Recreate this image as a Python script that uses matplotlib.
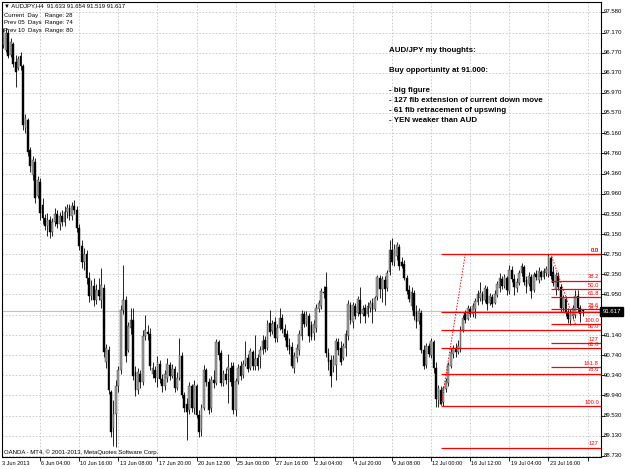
import matplotlib
matplotlib.use("Agg")
import matplotlib.pyplot as plt
import matplotlib.transforms as mtransforms
import numpy as np

W, H = 625, 469
FONT = ['Liberation Sans', 'DejaVu Sans']
plt.rcParams['font.family'] = FONT

# =============================================================================
# AUDJPY H4 candles, oldest first
# =============================================================================
opens = [
    97.06, 96.92, 96.82, 97.16, 96.72, 96.94, 96.58, 96.46, 96.70, 96.50,
    95.27, 95.43, 94.83, 94.33, 94.59, 93.91, 94.19, 93.73, 93.48, 93.32,
    93.44, 93.20, 93.40, 93.56, 93.36, 93.52, 93.40, 93.60, 93.67, 93.52,
    93.71, 93.63, 93.28, 92.92, 92.60, 92.76, 92.28, 91.92, 92.12, 91.84,
    92.04, 91.84, 92.08, 90.61, 90.84, 90.01, 89.29, 89.57, 90.13, 90.45,
    91.64, 91.84, 90.84, 91.28, 91.44, 90.41, 90.05, 90.37, 90.21, 91.12,
    91.20, 91.16, 90.37, 90.45, 90.29, 90.57, 90.27, 90.13, 90.29, 90.55,
    90.33, 90.47, 90.09, 90.29, 90.72, 89.95, 89.77, 89.65, 90.13, 89.69,
    90.13, 89.55, 89.25, 89.69, 90.45, 90.21, 89.69, 90.25, 90.19, 91.00,
    90.78, 90.19, 90.37, 90.45, 90.49, 90.53, 89.65, 90.23, 90.53, 90.35,
    90.57, 90.69, 90.49, 90.80, 90.53, 90.69, 90.71, 90.84, 91.04, 90.88,
    91.38, 91.22, 91.40, 91.08, 91.28, 91.48, 91.26, 91.16, 90.94, 90.90,
    90.49, 90.69, 90.84, 91.12, 91.56, 91.36, 91.52, 91.34, 91.18, 91.28,
    91.66, 91.72, 92.00, 92.10, 90.78, 90.65, 90.51, 90.55, 91.00, 90.88,
    90.69, 90.88, 91.12, 91.74, 91.40, 91.72, 91.58, 91.84, 91.56, 91.68,
    91.56, 91.68, 91.78, 91.66, 91.90, 92.28, 92.06, 92.24, 92.08, 92.40,
    92.84, 92.60, 92.72, 92.90, 92.60, 92.56, 92.28, 92.04, 91.72, 91.98,
    91.60, 91.42, 91.58, 90.84, 90.55, 90.92, 90.74, 91.00, 90.49, 89.85,
    90.05, 89.81, 90.07, 90.19, 90.53, 90.76, 90.88, 90.80, 90.88, 91.24,
    91.58, 91.46, 91.66, 91.56, 91.66, 91.80, 91.88, 91.96, 91.84, 92.06,
    91.78, 91.90, 91.78, 91.94, 92.08, 92.26, 92.12, 92.28, 92.02, 92.44,
    92.26, 92.08, 92.18, 92.38, 92.50, 92.24, 92.16, 92.30, 92.04, 92.36,
    92.24, 92.40, 92.30, 92.38, 92.36, 92.68, 92.40, 92.06, 92.32, 92.10,
    91.68, 91.86, 91.60, 91.44, 91.52, 91.54, 91.92, 91.68, 91.633,
]
closes = [
    96.82, 97.18, 97.16, 96.70, 96.98, 96.54, 96.39, 96.64, 96.50, 95.33,
    95.47, 94.79, 94.51, 94.63, 93.87, 94.23, 93.58, 93.48, 93.32, 93.44,
    93.20, 93.40, 93.56, 93.36, 93.52, 93.40, 93.60, 93.67, 93.52, 93.71,
    93.63, 93.28, 92.92, 92.60, 92.76, 92.28, 91.92, 92.12, 91.84, 92.04,
    91.92, 92.14, 90.80, 90.88, 90.05, 89.21, 89.57, 90.13, 90.45, 91.64,
    91.84, 90.72, 91.32, 91.44, 90.33, 90.05, 90.41, 90.21, 91.12, 91.24,
    91.16, 90.53, 90.49, 90.29, 90.61, 90.27, 90.13, 90.37, 90.57, 90.33,
    90.47, 90.09, 90.29, 90.74, 89.95, 89.69, 89.61, 90.13, 89.69, 90.15,
    89.55, 89.21, 89.69, 90.45, 90.21, 89.65, 90.25, 90.19, 91.00, 90.74,
    90.19, 90.37, 90.25, 90.51, 90.21, 89.65, 90.23, 90.49, 90.33, 90.57,
    90.71, 90.47, 90.82, 90.53, 90.67, 90.53, 90.84, 91.02, 90.86, 91.36,
    91.20, 91.36, 91.08, 91.28, 91.48, 91.26, 91.10, 90.90, 90.84, 90.53,
    90.72, 90.88, 91.16, 91.56, 91.36, 91.54, 91.12, 91.10, 91.36, 91.68,
    91.78, 92.02, 91.98, 90.78, 90.61, 90.33, 90.67, 91.02, 90.84, 90.61,
    90.92, 91.16, 91.76, 91.44, 91.74, 91.52, 91.86, 91.56, 91.66, 91.52,
    91.72, 91.78, 91.64, 91.88, 92.30, 92.06, 92.26, 92.06, 92.38, 92.84,
    92.60, 92.86, 92.94, 92.52, 92.52, 92.28, 92.02, 91.86, 92.00, 91.52,
    91.40, 91.62, 90.84, 90.53, 90.92, 90.76, 91.02, 90.49, 89.87, 90.09,
    89.77, 90.09, 90.23, 90.55, 90.80, 90.88, 90.80, 90.92, 91.24, 91.48,
    91.44, 91.68, 91.56, 91.72, 91.82, 91.96, 91.98, 91.82, 92.08, 91.76,
    91.92, 91.76, 91.96, 92.16, 92.28, 92.12, 92.30, 92.04, 92.44, 92.26,
    92.10, 92.20, 92.38, 92.52, 92.20, 92.10, 92.32, 92.02, 92.34, 92.30,
    92.42, 92.30, 92.42, 92.46, 92.72, 92.32, 92.18, 92.34, 92.10, 91.68,
    91.88, 91.58, 91.46, 91.60, 91.68, 91.92, 91.68, 91.56, 91.617,
]
highs = [
    97.16, 97.26, 97.26, 97.22, 97.06, 96.98, 96.72, 96.70, 96.78, 96.54,
    95.55, 95.47, 94.89, 94.71, 94.67, 94.31, 94.27, 93.87, 93.56, 93.58,
    93.52, 93.48, 93.67, 93.64, 93.60, 93.64, 93.71, 93.75, 93.75, 93.79,
    93.83, 93.71, 93.36, 93.04, 92.88, 92.84, 92.40, 92.24, 92.28, 92.16,
    92.28, 92.48, 92.16, 90.96, 90.92, 90.05, 89.85, 90.25, 90.53, 91.74,
    92.54, 91.92, 91.40, 91.68, 91.68, 90.53, 90.49, 90.45, 91.24, 91.54,
    91.34, 91.28, 90.61, 90.53, 90.72, 90.65, 90.37, 90.45, 90.69, 90.61,
    90.57, 90.53, 90.41, 91.08, 90.80, 90.01, 89.89, 90.21, 90.17, 90.25,
    90.17, 89.65, 89.77, 90.55, 90.49, 90.29, 90.33, 90.45, 91.06, 91.04,
    90.84, 90.45, 90.49, 90.76, 90.61, 90.61, 90.29, 90.57, 90.63, 90.65,
    91.02, 90.77, 90.88, 90.84, 91.14, 90.77, 90.92, 91.14, 91.12, 91.44,
    91.64, 91.44, 91.50, 91.36, 91.68, 91.56, 91.36, 91.24, 91.08, 91.00,
    90.80, 90.96, 91.24, 91.64, 91.62, 91.62, 91.58, 91.42, 91.44, 91.76,
    91.84, 92.08, 92.12, 92.40, 90.88, 90.75, 90.75, 91.08, 91.08, 91.02,
    90.98, 91.24, 91.84, 91.80, 91.80, 91.78, 91.92, 92.10, 91.74, 91.76,
    91.80, 91.84, 91.88, 91.92, 92.34, 92.34, 92.32, 92.32, 92.44, 93.04,
    93.08, 92.96, 93.00, 92.96, 92.70, 92.64, 92.34, 92.14, 92.10, 92.04,
    91.74, 91.68, 91.64, 90.94, 90.98, 90.98, 91.08, 91.04, 90.61, 90.15,
    90.13, 90.13, 90.29, 90.61, 90.88, 90.94, 90.98, 91.04, 91.32, 91.54,
    91.64, 91.74, 91.72, 91.78, 91.88, 92.04, 92.20, 92.02, 92.14, 92.12,
    91.98, 91.96, 92.04, 92.22, 92.38, 92.32, 92.36, 92.32, 92.54, 92.52,
    92.36, 92.28, 92.44, 92.58, 92.54, 92.32, 92.40, 92.36, 92.40, 92.44,
    92.50, 92.44, 92.48, 92.52, 92.76, 92.72, 92.52, 92.40, 92.40, 92.16,
    91.94, 91.92, 91.68, 91.66, 91.74, 92.04, 92.04, 91.74, 91.654,
]
lows = [
    96.72, 96.86, 96.78, 96.66, 96.68, 96.48, 96.09, 96.43, 96.43, 95.23,
    95.17, 94.71, 94.39, 94.23, 93.77, 93.87, 93.44, 93.36, 93.24, 93.12,
    93.08, 93.12, 93.32, 93.28, 93.24, 93.32, 93.32, 93.48, 93.44, 93.44,
    93.56, 93.20, 92.84, 92.48, 92.44, 92.16, 91.80, 91.84, 91.72, 91.76,
    91.84, 91.68, 90.70, 90.49, 89.97, 89.11, 88.93, 88.91, 90.01, 90.37,
    91.56, 90.60, 90.80, 91.16, 90.25, 89.93, 89.97, 90.09, 90.15, 91.04,
    91.04, 90.45, 90.29, 90.21, 90.11, 90.19, 90.01, 90.05, 90.21, 90.25,
    90.29, 90.01, 90.05, 90.25, 89.89, 89.61, 89.05, 89.57, 89.61, 89.57,
    89.49, 89.11, 89.13, 89.65, 90.13, 89.57, 89.61, 90.09, 90.15, 90.64,
    90.13, 90.13, 90.17, 89.79, 90.13, 89.57, 89.53, 90.17, 90.25, 90.29,
    90.53, 90.41, 90.45, 90.45, 90.45, 90.45, 90.49, 90.76, 90.80, 90.84,
    91.12, 91.16, 91.00, 91.00, 91.24, 91.18, 91.04, 90.84, 90.76, 90.49,
    90.39, 90.61, 90.74, 91.04, 91.30, 91.32, 91.00, 91.04, 91.04, 91.20,
    91.60, 91.66, 91.88, 90.70, 90.45, 90.11, 90.41, 90.25, 90.74, 90.55,
    90.64, 90.72, 91.04, 91.36, 91.28, 91.46, 91.52, 91.38, 91.52, 91.38,
    91.50, 91.60, 91.38, 91.62, 91.84, 91.88, 91.80, 91.74, 92.02, 92.34,
    92.54, 92.52, 92.64, 92.44, 92.48, 92.24, 91.96, 91.80, 91.64, 91.44,
    91.28, 91.36, 90.78, 90.47, 90.49, 90.70, 90.68, 90.39, 89.71, 89.71,
    89.75, 89.73, 90.01, 90.13, 90.49, 90.68, 90.70, 90.76, 90.80, 91.20,
    91.38, 91.44, 91.50, 91.50, 91.48, 91.74, 91.82, 91.76, 91.80, 91.64,
    91.74, 91.70, 91.76, 91.90, 92.00, 92.06, 92.08, 91.94, 91.96, 92.20,
    91.94, 92.00, 92.14, 92.32, 92.14, 91.98, 92.12, 91.88, 92.00, 92.24,
    92.18, 92.24, 92.26, 92.32, 92.30, 92.26, 92.12, 91.94, 92.04, 91.60,
    91.62, 91.52, 91.38, 91.34, 91.46, 91.48, 91.60, 91.40, 91.519,
]

bid = 91.617

price_ticks = [97.58, 97.17, 96.77, 96.37, 95.97, 95.57, 95.16, 94.76, 94.36,
               93.96, 93.55, 93.15, 92.75, 92.35, 91.95, 91.54, 91.14, 90.74,
               90.34, 89.94, 89.53, 89.13, 88.73]
time_labels = ["3 Jun 2013", "6 Jun 04:00", "10 Jun 16:00", "13 Jun 08:00",
               "17 Jun 20:00", "20 Jun 12:00", "25 Jun 00:00", "27 Jun 16:00",
               "2 Jul 04:00", "4 Jul 20:00", "9 Jul 08:00", "12 Jul 00:00",
               "16 Jul 12:00", "19 Jul 04:00", "23 Jul 16:00"]
time_label_bars = [0, 16, 32, 48, 64, 80, 96, 112, 128, 144, 160, 176, 192, 208, 224]
grid_bars = [16, 32, 48, 64, 80, 96, 112, 128, 144, 160, 176, 192, 208, 224, 240]

# Fibonacci objects (start bar, 0% price, 100% price, levels)
fib_a = dict(start=225, p0=92.76, p100=91.36, trend=(225, 235),
             levels=[0.0, 38.2, 50.0, 61.8, 78.6, 100.0, 127.0, 161.8])
fib_b = dict(start=180, p0=92.76, p100=89.72, trend=(190, 180),
             levels=[0.0, 38.2, 50.0, 61.8, 78.6, 100.0, 127.0])
fib_names = {0.0: "0.0", 38.2: "38.2", 50.0: "50.0", 61.8: "61.8",
             78.6: "78.6", 100.0: "100.0", 127.0: "127", 161.8: "161.8"}

header_lines = ["\u25bc AUDJPY,H4  91.633 91.654 91.519 91.617",
                "Current  Day    Range: 28",
                "Prev 05  Days  Range: 74",
                "Prev 10  Days  Range: 80"]
note_lines = ["AUD/JPY my thoughts:", "Buy opportunity at 91.000:",
              "- big figure", "- 127 fib extension of current down move",
              "- 61 fib retracement of upswing", "- YEN weaker than AUD"]


def fx(px):
    return px / W


def fy(py):
    return 1 - py / H


fig = plt.figure(figsize=(W / 100, H / 100), dpi=100)
ax = fig.add_axes([fx(2), 12 / H, 599 / W, 455 / H])
ax.set_xlim(0.41, 245.5)
ax.set_ylim(88.710, 97.779)

# grid
grid_kw = dict(color='#c6c6c6', lw=0.6, ls=(0, (2, 2)), zorder=0)
for p in price_ticks:
    ax.axhline(p, **grid_kw)
for b in grid_bars:
    ax.axvline(b, **grid_kw)

# bid line
ax.axhline(bid, color='#c0c0c0', lw=0.8, zorder=1)

# candles
o = np.array(opens)
c = np.array(closes)
hi = np.array(highs)
lo = np.array(lows)
idx = np.arange(len(c))
up = c >= o
ax.vlines(idx, lo, hi, color='black', lw=0.6, zorder=2)
ax.bar(idx[up], np.maximum((c - o)[up], 0.005), bottom=o[up], width=0.72,
       color='#a4a4a4', edgecolor='#303030', linewidth=0.3, zorder=3)
ax.bar(idx[~up], (o - c)[~up], bottom=c[~up], width=0.72,
       color='black', edgecolor='black', linewidth=0.3, zorder=3)

# fibonacci levels
x_right = 245.5
for fib in (fib_b, fib_a):
    rng = fib['p0'] - fib['p100']
    for lv in fib['levels']:
        p = fib['p0'] - rng * lv / 100.0
        ax.hlines(p, fib['start'], x_right, colors='#ff0000', lw=0.9, zorder=4)
        ax.text(244.6, p + 0.025, fib_names[lv], color='#ff0000', fontsize=4.2,
                ha='right', va='bottom', zorder=5)
    t0, t1 = fib['trend']
    ax.plot([t0, t1], [fib['p0'], fib['p100']], color='#ff0000', lw=0.7,
            ls=(0, (1.5, 1.5)), zorder=4)

# axes frame and ticks
for s in ax.spines.values():
    s.set_color('black')
    s.set_linewidth(0.8)
ax.set_xticks(grid_bars)
ax.set_yticks(price_ticks)
ax.tick_params(axis='x', direction='out', length=3, width=0.6, labelbottom=False)
ax.tick_params(axis='y', left=False, right=True, direction='out', length=3,
               width=0.6, labelleft=False, labelright=False)

# right price labels
ytrans = mtransforms.blended_transform_factory(fig.transFigure, ax.transData)
for p in price_ticks:
    ax.text(fx(604), p, f"{p:.3f}", transform=ytrans, fontsize=4.3,
            ha='left', va='center', clip_on=False)
ax.text(fx(602.5), bid, f"{bid:.3f}", transform=ytrans, fontsize=4.3, color='white',
        ha='left', va='center', clip_on=False, zorder=6,
        bbox=dict(boxstyle='square,pad=0.35', fc='black', ec='black'))

# bottom time labels
xtrans = mtransforms.blended_transform_factory(ax.transData, fig.transFigure)
for b, lab in zip(time_label_bars, time_labels):
    ax.text(b + 0.5, fy(463), lab, transform=xtrans, fontsize=4.0,
            ha='left', va='center', clip_on=False)

# header block
for line, y in zip(header_lines, [6, 15, 22.7, 30]):
    fig.text(fx(4), fy(y), line, fontsize=4.3, va='center', ha='left')

# copyright line
fig.text(fx(4), fy(452), "OANDA - MT4, \u00a9 2001-2013, MetaQuotes Software Corp.",
         fontsize=4.3, va='center', ha='left')

# trader's note
for line, y in zip(note_lines, [50.7, 70.7, 90, 100, 110, 120]):
    fig.text(fx(389), fy(y), line, fontsize=5.7, fontweight='bold',
             va='center', ha='left')

fig.savefig("out.png", dpi=100)
